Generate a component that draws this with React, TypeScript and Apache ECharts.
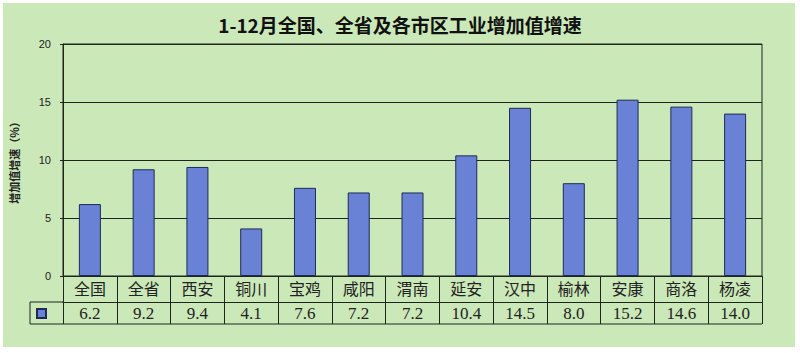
import React, { useEffect, useRef } from "react";
import * as echarts from "echarts";

const categories = ["全国", "全省", "西安", "铜川", "宝鸡", "咸阳", "渭南", "延安", "汉中", "榆林", "安康", "商洛", "杨凌"];
const values = [6.2, 9.2, 9.4, 4.1, 7.6, 7.2, 7.2, 10.4, 14.5, 8.0, 15.2, 14.6, 14.0];
const yMin = 0;
const yMax = 20;
const yInterval = 5;
const titleText = "1-12月全国、全省及各市区工业增加值增速";
const yName = "增加值增速（%）";
const seriesName = "增加值增速";

const GREEN = "#cbe8b8";
const DARK = "#1c261c";
const BLUE = "#6a82d6";

export default function App() {
  const ref = useRef<HTMLDivElement>(null);
  useEffect(() => {
    if (!ref.current) return;
    const chart = echarts.init(ref.current, null, { renderer: "svg" });
    chart.setOption({
      animation: false,
      backgroundColor: "#ffffff",
      title: {
        text: titleText,
        left: "center",
        top: 10,
        textStyle: { fontSize: 19, fontWeight: "bold", color: "#111", fontFamily: "Noto Sans CJK SC" },
      },
      legend: {
        data: [seriesName],
        left: 36,
        top: 308,
        itemWidth: 9,
        itemHeight: 9,
        icon: "rect",
        formatter: () => "",
        itemGap: 0,
        padding: 0,
      },
      grid: {
        left: 63,
        right: 38,
        top: 44,
        bottom: 77,
        show: true,
        borderColor: DARK,
        borderWidth: 1,
        backgroundColor: "transparent",
      },
      graphic: [
        { type: "rect", z: -10, shape: { x: 3, y: 3, width: 792, height: 344 }, style: { fill: GREEN } },
        { type: "line", shape: { x1: 30, y1: 302, x2: 63, y2: 302 }, style: { stroke: DARK, lineWidth: 1 } },
        { type: "line", shape: { x1: 30, y1: 324, x2: 762, y2: 324 }, style: { stroke: DARK, lineWidth: 1 } },
        { type: "line", shape: { x1: 30, y1: 302, x2: 30, y2: 324 }, style: { stroke: DARK, lineWidth: 1 } },
      ],
      xAxis: [
        {
          type: "category",
          position: "bottom",
          data: categories,
          axisLine: { show: true, lineStyle: { color: DARK, width: 1 } },
          axisTick: { show: true, length: 48, lineStyle: { color: DARK, width: 1 } },
          axisLabel: { fontSize: 16, color: "#222", fontFamily: "Noto Sans CJK SC", margin: 4, interval: 0 },
          splitLine: { show: false },
        },
        {
          type: "category",
          position: "bottom",
          offset: 26,
          data: values.map((v) => v.toFixed(1)),
          axisLine: { show: true, lineStyle: { color: DARK, width: 1 } },
          axisTick: { show: false },
          axisLabel: { fontSize: 17, color: "#222", fontFamily: "Liberation Serif", margin: 3, interval: 0 },
          splitLine: { show: false },
        },
      ],
      yAxis: {
        type: "value",
        min: yMin,
        max: yMax,
        interval: yInterval,
        name: yName,
        nameLocation: "middle",
        nameGap: 44,
        nameTextStyle: { fontSize: 11, fontWeight: "bold", color: "#222", fontFamily: "Noto Sans CJK SC" },
        axisLine: { show: true, lineStyle: { color: DARK, width: 1 } },
        axisTick: { show: true, length: 3, lineStyle: { color: DARK } },
        axisLabel: { fontSize: 11, color: "#222", fontFamily: "Liberation Sans", margin: 12 },
        splitLine: { show: true, lineStyle: { color: DARK, width: 1 } },
      },
      series: [
        {
          name: seriesName,
          type: "bar",
          xAxisIndex: 0,
          data: values,
          barWidth: 22,
          itemStyle: { color: BLUE, borderColor: "#1e2a55", borderWidth: 1 },
        },
      ],
    });
    return () => chart.dispose();
  }, []);
  return (
    <div style={{ position: "fixed", left: 0, top: 0, width: 800, height: 353 }}>
      <div ref={ref} style={{ width: 800, height: 353 }} />
    </div>
  );
}
